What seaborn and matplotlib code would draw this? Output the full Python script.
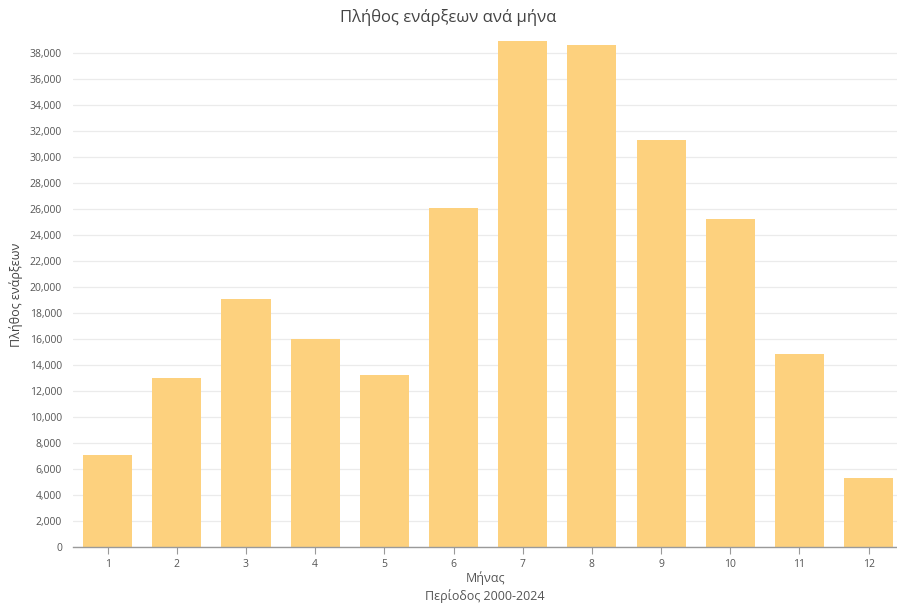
import matplotlib
matplotlib.use("Agg")
import matplotlib.pyplot as plt
import matplotlib.ticker as mticker
import pandas as pd
import seaborn as sns

# --- data ---
months = ["1", "2", "3", "4", "5", "6", "7", "8", "9", "10", "11", "12"]
starts = [7050, 13000, 19050, 16000, 13230, 26080, 38920, 38620, 31300, 25230, 14850, 5300]

df = pd.DataFrame({"Μήνας": months, "Πλήθος": starts})

sns.set_theme(style="white")
plt.rcParams["font.family"] = ["Open Sans", "DejaVu Sans"]

fig = plt.figure(figsize=(8.97, 6.03), dpi=100)
ax = fig.add_axes([0.0814, 0.0929, 0.9186, 0.8408])

sns.barplot(data=df, x="Μήνας", y="Πλήθος", color="#FDD17E", saturation=1,
            width=0.71, linewidth=0, ax=ax, zorder=2)

ax.set_xlim(-0.5, 11.41)
ax.set_ylim(0, 39000)
ax.yaxis.set_major_locator(mticker.MultipleLocator(2000))
ax.yaxis.set_major_formatter(mticker.FuncFormatter(lambda v, p: f"{int(v):,}"))
ax.grid(axis="y", color="#ebebeb", linewidth=0.9, zorder=0)
ax.set_axisbelow(True)

for s in ["top", "right", "left"]:
    ax.spines[s].set_visible(False)
ax.spines["bottom"].set_color("#9a9a9a")
ax.spines["bottom"].set_linewidth(1.0)

ax.tick_params(axis="x", bottom=True, length=5, width=0.8, color="#9a9a9a",
               labelsize=7.5, labelcolor="#555555", pad=4)
ax.tick_params(axis="y", left=False, length=0, labelsize=7.5,
               labelcolor="#555555", pad=8)

ax.set_xlabel("")
ax.set_ylabel("")
fig.text(0.5407, 1 - 578 / 603, "Μήνας", ha="center", va="center",
         fontsize=9, color="#555555")
fig.text(0.5407, 1 - 596 / 603, "Περίοδος 2000-2024", ha="center", va="center",
         fontsize=9, color="#555555")
fig.text(16 / 897, 1 - 295 / 603, "Πλήθος ενάρξεων", ha="center", va="center",
         rotation=90, fontsize=9, color="#444444")
fig.suptitle("Πλήθος ενάρξεων ανά μήνα", y=0.985, fontsize=12, color="#444444")

fig.savefig("out.png", dpi=100)
